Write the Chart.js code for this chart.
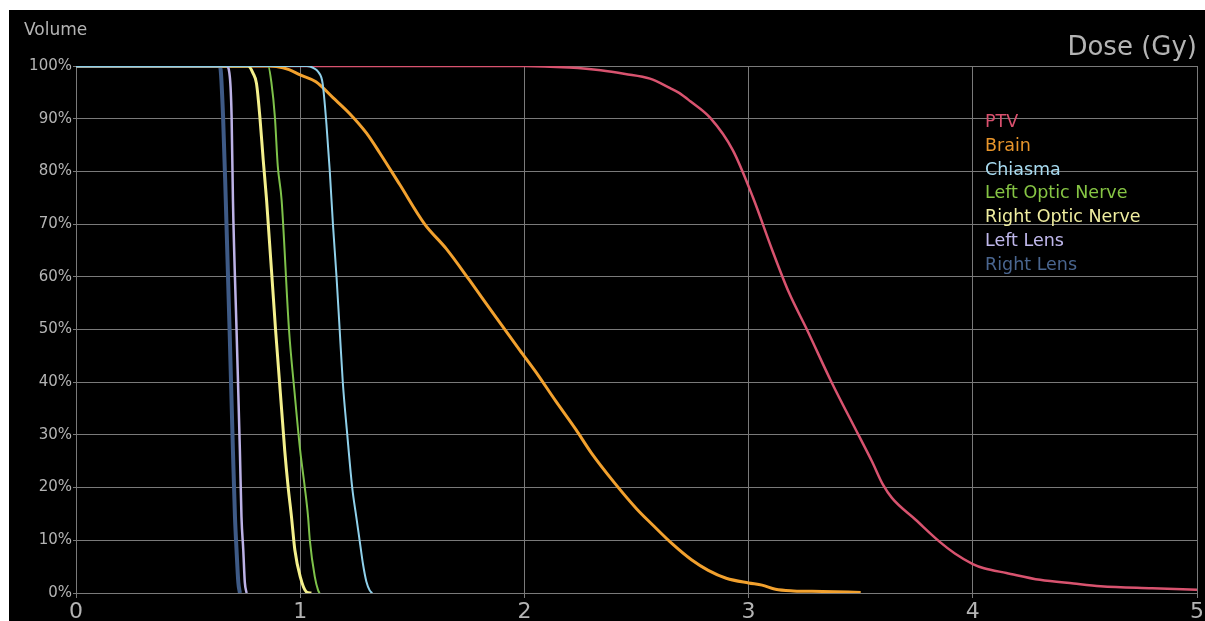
<!DOCTYPE html>
<html>
<head>
<meta charset="utf-8">
<script src="https://cdn.jsdelivr.net/npm/chart.js@4/dist/chart.umd.min.js"></script>
<style>
  html, body { margin: 0; padding: 0; background: #ffffff; width: 1205px; height: 621px; overflow: hidden; }
  #wrap { position: absolute; left: 9px; top: 10px; width: 1196px; height: 611px; background: #000000; }
</style>
</head>
<body>
<div id="wrap"><canvas id="c"></canvas></div>
<script>
// ---- Data (dose in Gy, volume in %) ----
const xTicks = [0, 1, 2, 3, 4, 5];
const yTicks = [0, 10, 20, 30, 40, 50, 60, 70, 80, 90, 100];

const seriesNames = ["PTV", "Brain", "Chiasma", "Left Optic Nerve", "Right Optic Nerve", "Left Lens", "Right Lens"];

const ptvDose = [0, 2.0, 2.2, 2.34, 2.45, 2.56, 2.65, 2.69, 2.74, 2.83, 2.93, 3.02, 3.106, 3.18, 3.26, 3.37, 3.49, 3.55, 3.6, 3.64, 3.745, 3.85, 3.92, 4.0, 4.05, 4.15, 4.3, 4.45, 4.57, 4.8, 5.0];
const ptvVol  = [100, 100, 99.7, 99.2, 98.5, 97.6, 95.8, 94.9, 93.3, 90.1, 84, 75, 65, 57, 50, 40, 30, 25, 20.5, 18, 13.9, 9.8, 7.5, 5.5, 4.7, 3.8, 2.5, 1.8, 1.3, 0.9, 0.6];

const brainDose = [0, 0.86, 0.894, 0.95, 1.0, 1.07, 1.146, 1.22, 1.295, 1.355, 1.444, 1.555, 1.652, 1.756, 1.86, 1.979, 2.05, 2.14, 2.23, 2.3, 2.4, 2.5, 2.57, 2.66, 2.745, 2.82, 2.9, 3.0, 3.06, 3.12, 3.2, 3.33, 3.5];
const brainVol  = [100, 100, 99.9, 99.3, 98.3, 97, 94, 91, 87.3, 83.5, 77.5, 70, 65.3, 59.3, 53.1, 46.1, 42, 36.4, 31, 26.5, 21, 16, 13, 9.3, 6.3, 4.3, 2.8, 1.9, 1.5, 0.7, 0.4, 0.3, 0.1];

const chiasmaDose = [0, 1.03, 1.06, 1.08, 1.10, 1.117, 1.132, 1.146, 1.162, 1.176, 1.19, 1.21, 1.232, 1.25, 1.265, 1.28, 1.295, 1.31, 1.318, 1.322];
const chiasmaVol  = [100, 100, 99.6, 98.9, 96.7, 89, 80, 70, 60, 50, 40, 30, 20, 14.5, 10, 5.5, 2.2, 0.5, 0.1, 0];

const lonDose = [0, 0.857, 0.872, 0.887, 0.90, 0.917, 0.95, 0.975, 1.0, 1.02, 1.035, 1.043, 1.065, 1.08, 1.087];
const lonVol  = [100, 100, 96.7, 90.4, 81, 74.6, 50, 38, 27, 20.2, 14.5, 10, 3.1, 0.5, 0];

const ronDose = [0, 0.768, 0.79, 0.805, 0.82, 0.835, 0.85, 0.89, 0.931, 0.946, 0.961, 0.976, 1.0, 1.028, 1.05];
const ronVol  = [100, 100, 98.6, 96.7, 90.4, 82.2, 74.6, 50, 27, 20.2, 14.5, 8.2, 3.1, 0.2, 0];

const llensDose = [0, 0.671, 0.686, 0.694, 0.70, 0.716, 0.731, 0.738, 0.746, 0.753, 0.761];
const llensVol  = [100, 100, 98, 90.4, 74.6, 50, 27, 14.5, 8.2, 2, 0];

const rlensDose = [0, 0.642, 0.656, 0.668, 0.685, 0.70, 0.709, 0.716, 0.724, 0.731];
const rlensVol  = [100, 100, 90.4, 74.6, 50, 27, 14.5, 8.2, 2, 0];

// ---- Styles ----
const lineColors = ["#d8536f", "#f2a12e", "#8fd0ea", "#7ec24a", "#f4f08c", "#bcb2e6", "#3e5a86"];
const textColors = ["#d9506e", "#e8952b", "#a8dbf0", "#86c544", "#f0eea0", "#c0b8ec", "#4a6690"];
const lineWidths = [2.5, 3, 2, 2, 3, 2.5, 4];
const drawOrder  = [6, 5, 0, 3, 2, 1, 4];

const doses = [ptvDose, brainDose, chiasmaDose, lonDose, ronDose, llensDose, rlensDose];
const vols  = [ptvVol, brainVol, chiasmaVol, lonVol, ronVol, llensVol, rlensVol];

const FONT = "'DejaVu Sans', Verdana, sans-serif";
const GRID = "#7a7a7a";
const TICK = "#b4b4b4";

const datasets = seriesNames.map((name, i) => ({
  label: name,
  data: doses[i].map((d, k) => ({ x: d, y: vols[i][k] })),
  borderColor: lineColors[i],
  backgroundColor: lineColors[i],
  borderWidth: lineWidths[i],
  pointRadius: 0,
  fill: false,
  cubicInterpolationMode: 'monotone',
  order: drawOrder[i]
}));

const textPlugin = {
  id: 'texts',
  afterDraw(chart) {
    const ctx = chart.ctx;
    ctx.save();
    ctx.textBaseline = 'alphabetic';
    ctx.fillStyle = TICK;
    ctx.font = "17px " + FONT;
    ctx.textAlign = 'left';
    ctx.fillText("Volume", 15, 25);
    ctx.font = "26px " + FONT;
    ctx.textAlign = 'right';
    ctx.fillText("Dose (Gy)", 1188, 45);
    ctx.font = "17.5px " + FONT;
    ctx.textAlign = 'left';
    seriesNames.forEach((n, i) => {
      ctx.fillStyle = textColors[i];
      ctx.fillText(n, 976, 117 + i * 23.8);
    });
    ctx.restore();
  }
};

new Chart(document.getElementById('c'), {
  type: 'line',
  data: { datasets },
  plugins: [textPlugin],
  options: {
    responsive: true,
    maintainAspectRatio: false,
    animation: false,
    layout: { padding: { top: 56, right: 7, left: 0, bottom: 0 } },
    plugins: { legend: { display: false }, tooltip: { enabled: false }, title: { display: false } },
    scales: {
      x: {
        type: 'linear',
        min: xTicks[0],
        max: xTicks[xTicks.length - 1],
        afterFit: (s) => { s.height = 28; },
        afterBuildTicks: (s) => { s.ticks = xTicks.map(v => ({ value: v })); },
        grid: { color: GRID, lineWidth: 1, tickLength: 5, drawTicks: true },
        border: { color: GRID },
        ticks: { color: TICK, font: { family: FONT, size: 22 }, padding: 1, maxRotation: 0, autoSkip: false }
      },
      y: {
        type: 'linear',
        min: yTicks[0],
        max: yTicks[yTicks.length - 1],
        afterFit: (s) => { s.width = 67; },
        afterBuildTicks: (s) => { s.ticks = yTicks.map(v => ({ value: v })); },
        grid: { color: GRID, lineWidth: 1, tickLength: 3, drawTicks: true },
        border: { color: GRID },
        ticks: { color: TICK, font: { family: FONT, size: 15 }, padding: 1, autoSkip: false, callback: (v) => v + '%' }
      }
    }
  }
});
</script>
</body>
</html>
